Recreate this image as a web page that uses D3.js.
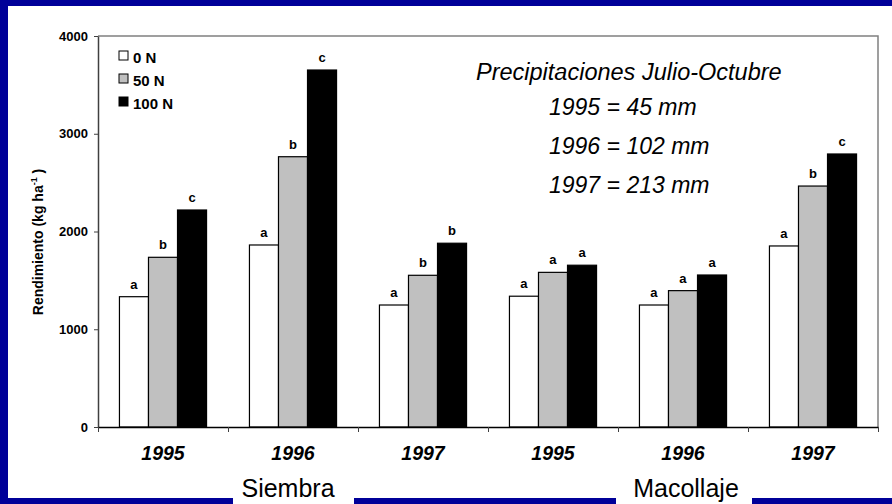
<!DOCTYPE html>
<html>
<head>
<meta charset="utf-8">
<script src="https://cdn.jsdelivr.net/npm/d3@7"></script>
<style>
  body { margin: 0; background: #000099; }
  svg { display: block; }
  text { font-family: Arial, "Liberation Sans", sans-serif; }
</style>
</head>
<body>
<div id="chart"></div>
<script>
// categories (stage + year)
const categories = ["S1995", "S1996", "S1997", "M1995", "M1996", "M1997"];
const yearLabels = ["1995", "1996", "1997", "1995", "1996", "1997"];
const stages = ["Siembra", "Macollaje"];
const series = ["0 N", "50 N", "100 N"];
const colors = ["#ffffff", "#c0c0c0", "#000000"];

// rendimiento kg/ha for each category, per series
const values0N   = [1333, 1862, 1248, 1338, 1248, 1852];
const values50N  = [1736, 2765, 1552, 1582, 1395, 2465];
const values100N = [2220, 3652, 1880, 1655, 1555, 2793];

// significance letters
const letters0N   = ["a", "a", "a", "a", "a", "a"];
const letters50N  = ["b", "b", "b", "a", "a", "b"];
const letters100N = ["c", "c", "b", "a", "a", "c"];

const yTicks = [0, 1000, 2000, 3000, 4000];
const noteLines = ["1995 = 45 mm", "1996 = 102 mm", "1997 = 213 mm"];

function main() {
    const width = 892;
    const height = 504;
    const margin = { left: 98, right: 14, top: 36, bottom: 77 };

    const svg = d3.select("#chart")
        .append("svg")
        .attr("width", width)
        .attr("height", height);

    // navy frame with white panel
    svg.append("rect").attr("width", width).attr("height", height).attr("fill", "#000099");
    svg.append("rect").attr("x", 8).attr("y", 6).attr("width", width - 8).attr("height", 492).attr("fill", "#ffffff");

    const x = d3.scaleBand()
        .domain(categories)
        .range([margin.left, width - margin.right]);

    const xSub = d3.scaleBand()
        .domain(series)
        .range([0, x.bandwidth() * 0.67]);
    const subOffset = (x.bandwidth() - xSub.range()[1]) / 2;

    const y = d3.scaleLinear()
        .domain([0, 4000])
        .range([height - margin.bottom, margin.top]);

    // plot frame (top / right in gray)
    svg.append("path")
        .attr("d", `M${margin.left},${margin.top}H${width - margin.right}V${y(0)}`)
        .attr("fill", "none")
        .attr("stroke", "#808080")
        .attr("stroke-width", 1.5);

    const rows = categories.map((c, i) => ({
        cat: c,
        vals: [values0N[i], values50N[i], values100N[i]],
        lets: [letters0N[i], letters50N[i], letters100N[i]]
    }));

    const groups = svg.selectAll("g.grp")
        .data(rows)
        .enter()
        .append("g")
        .attr("class", "grp")
        .attr("transform", d => `translate(${x(d.cat) + subOffset},0)`);

    groups.selectAll("rect")
        .data(d => d.vals.map((v, j) => ({ s: series[j], v: v, c: colors[j] })))
        .enter()
        .append("rect")
        .attr("x", d => xSub(d.s))
        .attr("y", d => y(d.v))
        .attr("width", xSub.bandwidth())
        .attr("height", d => y(0) - y(d.v))
        .attr("fill", d => d.c)
        .attr("stroke", "#000")
        .attr("stroke-width", 1.2);

    groups.selectAll("text")
        .data(d => d.vals.map((v, j) => ({ s: series[j], v: v, l: d.lets[j] })))
        .enter()
        .append("text")
        .attr("x", d => xSub(d.s) + xSub.bandwidth() / 2)
        .attr("y", d => y(d.v) - 8)
        .attr("text-anchor", "middle")
        .attr("font-size", 13)
        .attr("font-weight", "bold")
        .text(d => d.l);

    // y axis
    const yAxis = svg.append("g")
        .attr("transform", `translate(${margin.left},0)`)
        .call(d3.axisLeft(y).tickValues(yTicks).tickFormat(d3.format("d")).tickSize(4).tickPadding(6).tickSizeOuter(0));
    yAxis.select(".domain").attr("stroke", "#404040").attr("stroke-width", 1.5);
    yAxis.selectAll(".tick line").attr("stroke", "#404040");
    yAxis.selectAll(".tick text")
        .attr("font-size", 13)
        .attr("font-weight", "bold")
        .attr("font-family", "Arial, 'Liberation Sans', sans-serif")
        .attr("fill", "#000");

    // x axis: ticks at category boundaries
    const xb = d3.scaleLinear().domain([0, categories.length]).range(x.range());
    const xAxis = svg.append("g")
        .attr("transform", `translate(0,${y(0)})`)
        .call(d3.axisBottom(xb).ticks(categories.length).tickFormat("").tickSize(5).tickSizeOuter(0));
    xAxis.select(".domain").attr("stroke", "#000").attr("stroke-width", 1.5);
    xAxis.selectAll(".tick line").attr("stroke", "#404040");

    svg.selectAll("text.year")
        .data(categories)
        .enter()
        .append("text")
        .attr("class", "year")
        .attr("x", d => x(d) + x.bandwidth() / 2)
        .attr("y", 460)
        .attr("text-anchor", "middle")
        .attr("font-size", 19.5)
        .attr("font-weight", "bold")
        .attr("font-style", "italic")
        .text((d, i) => yearLabels[i]);

    // y title
    const yTitle = svg.append("text")
        .attr("transform", "translate(43,242) rotate(-90)")
        .attr("text-anchor", "middle")
        .attr("font-size", 14)
        .attr("font-weight", "bold");
    yTitle.append("tspan").text("Rendimiento (kg ha");
    yTitle.append("tspan").attr("dy", -6).attr("font-size", 9).text("-1");
    yTitle.append("tspan").attr("dy", 6).text(" )");

    // legend
    const legend = svg.selectAll("g.leg")
        .data(series)
        .enter()
        .append("g")
        .attr("class", "leg")
        .attr("transform", (d, i) => `translate(119,${51 + i * 23})`);
    legend.append("rect")
        .attr("width", 9)
        .attr("height", 9)
        .attr("fill", (d, i) => colors[i])
        .attr("stroke", "#000")
        .attr("stroke-width", 1);
    legend.append("text")
        .attr("x", 14)
        .attr("y", 12)
        .attr("font-size", 15)
        .attr("font-weight", "bold")
        .text(d => d);

    // precipitation note
    svg.append("text")
        .attr("x", 476)
        .attr("y", 80)
        .attr("font-size", 23.5)
        .attr("font-style", "italic")
        .text("Precipitaciones Julio-Octubre");
    svg.selectAll("text.note")
        .data(noteLines)
        .enter()
        .append("text")
        .attr("class", "note")
        .attr("x", 549)
        .attr("y", (d, i) => 115 + i * 39)
        .attr("font-size", 23)
        .attr("font-style", "italic")
        .text(d => d);

    // stage labels with white boxes over the navy bottom edge
    const stageBoxes = [[233, 354], [616, 752]];
    const stageCenters = [288, 686];
    stageBoxes.forEach((b, i) => {
        svg.append("rect")
            .attr("x", b[0]).attr("y", 470)
            .attr("width", b[1] - b[0]).attr("height", height - 470)
            .attr("fill", "#ffffff");
        svg.append("text")
            .attr("x", stageCenters[i])
            .attr("y", 497)
            .attr("text-anchor", "middle")
            .attr("font-size", 25)
            .text(stages[i]);
    });
}
main();
</script>
</body>
</html>
